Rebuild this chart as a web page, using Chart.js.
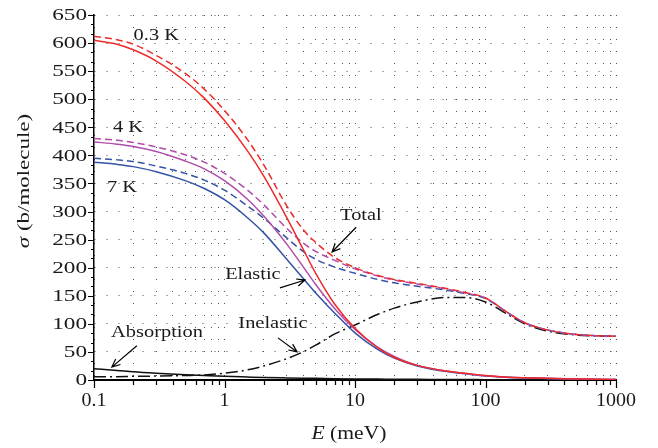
<!DOCTYPE html>
<html>
<head>
<meta charset="utf-8">
<script src="https://cdn.jsdelivr.net/npm/chart.js@4.4.0/dist/chart.umd.min.js"></script>
<style>
  html, body { margin: 0; padding: 0; background: #fff; }
  canvas { display: block; }
</style>
</head>
<body>
<canvas id="sigmaChart" width="658" height="448"></canvas>
<script>
// energies in meV, cross sections in b/molecule
const energies = [0.1, 0.15, 0.2, 0.3, 0.5, 0.7, 1, 1.5, 2, 3, 4, 5, 7, 10, 15, 20, 30, 50, 70, 100, 150, 200, 300, 500, 700, 1000];
const elastic03K = [605, 598, 588, 568, 532, 502, 462, 408, 363, 289, 233, 190, 135, 92, 57, 40, 26, 16, 12, 8, 5, 4, 3, 2, 1.5, 1];
const total03K   = [612, 606, 598, 578, 546, 518, 480, 428, 383, 310, 268, 245, 218, 200, 186, 179, 172, 163, 156, 146, 119, 102, 89, 81, 79, 78];
const elastic4K  = [424, 420, 416, 407, 390, 376, 355, 322, 292, 242, 202, 170, 127, 90, 58, 42, 26, 16, 11.5, 7.5, 5, 3.8, 2.8, 1.8, 1.4, 1];
const total4K    = [430, 427, 423, 415, 401, 388, 368, 338, 312, 270, 244, 229, 213, 198, 185, 178, 171, 162, 155, 146, 119, 102, 89, 81, 79, 78];
const elastic7K  = [388, 384, 380, 371, 355, 341, 321, 289, 262, 215, 181, 155, 119, 84, 54, 39, 25, 15, 11, 7, 4.6, 3.5, 2.5, 1.6, 1.2, 0.9];
const total7K    = [395, 392, 389, 381, 368, 356, 338, 310, 288, 253, 229, 215, 201, 190, 179, 173, 167, 160, 154, 145, 119, 102, 89, 81, 79, 78];
const inelastic  = [6, 6, 6.5, 7, 8, 9, 12, 18, 25, 38, 50, 62, 82, 98, 117, 128, 139, 147, 147, 139, 116, 100, 87, 80, 78.5, 78];
const absorption = [20, 17, 14.5, 12, 9.5, 8, 6.5, 5.3, 4.5, 3.7, 3.2, 2.9, 2.4, 2, 1.7, 1.4, 1.2, 0.9, 0.8, 0.65, 0.5, 0.45, 0.37, 0.3, 0.25, 0.2];

const xTickValues = [0.1, 1, 10, 100, 1000];
const xTickLabels = ['0.1', '1', '10', '100', '1000'];
const yTickValues = [0, 50, 100, 150, 200, 250, 300, 350, 400, 450, 500, 550, 600, 650];

// annotations, placed in data coordinates (E, sigma)
const noteText  = ['0.3 K', '4 K', '7 K', 'Total', 'Elastic', 'Inelastic', 'Absorption'];
const noteE     = [0.3, 0.182, 0.164, 11.1, 1.65, 2.35, 0.304];
const noteSigma = [614, 449, 342, 292, 187, 100, 84];
const arrowFrom = [[10.2, 272], [2.66, 164], [2.57, 75], [0.213, 61]];
const arrowTo   = [[6.67, 228], [4.14, 178], [3.6, 50], [0.137, 23]];

const RED = '#ee2a2a';
const MAGENTA = '#b04ca8';
const BLUE = '#3553a5';
const FONT = '"Liberation Serif", "Times New Roman", serif';

function pts(values) {
    return energies.map((e, i) => ({ x: e, y: values[i] }));
}

function curve(values, color, dash) {
    return {
        data: pts(values),
        borderColor: color,
        borderWidth: 1.5,
        borderDash: dash || [],
        pointRadius: 0,
        fill: false,
        cubicInterpolationMode: 'monotone'
    };
}

// all 1..9 multiples of each decade, for grid and ticks
let xGrid = [];
for (let d = -1; d < 3; d++) {
    for (let m = 1; m < 10; m++) xGrid.push(m * Math.pow(10, d));
}
xGrid.push(1000);

function stretchText(ctx, parts, x, y, align, size, sx) {
    ctx.save();
    ctx.translate(x, y);
    ctx.scale(sx, 1);
    ctx.textBaseline = 'middle';
    ctx.textAlign = 'left';
    ctx.fillStyle = '#1a1a1a';
    let total = 0;
    parts.forEach(p => {
        ctx.font = (p.italic ? 'italic ' : '') + size + 'px ' + FONT;
        p.w = ctx.measureText(p.text).width;
        total += p.w;
    });
    let cx = align === 'center' ? -total / 2 : (align === 'right' ? -total : 0);
    parts.forEach(p => {
        ctx.font = (p.italic ? 'italic ' : '') + size + 'px ' + FONT;
        ctx.fillText(p.text, cx, 0);
        cx += p.w;
    });
    ctx.restore();
}

function arrow(ctx, x1, y1, x2, y2) {
    const a = Math.atan2(y2 - y1, x2 - x1);
    const len = 9, spread = 0.42;
    ctx.beginPath();
    ctx.moveTo(x1, y1);
    ctx.lineTo(x2, y2);
    ctx.moveTo(x2 - len * Math.cos(a - spread), y2 - len * Math.sin(a - spread));
    ctx.lineTo(x2, y2);
    ctx.lineTo(x2 - len * Math.cos(a + spread), y2 - len * Math.sin(a + spread));
    ctx.stroke();
}

const decorations = {
    id: 'decorations',
    afterDraw(chart) {
        const ctx = chart.ctx;
        const xs = chart.scales.x, ys = chart.scales.y;
        const area = chart.chartArea;

        // tick marks
        ctx.save();
        ctx.strokeStyle = '#000';
        ctx.lineWidth = 1.2;
        ctx.beginPath();
        xGrid.forEach(v => {
            const px = Math.round(xs.getPixelForValue(v)) + 0.5;
            const major = Math.abs(Math.log10(v) - Math.round(Math.log10(v))) < 1e-9;
            ctx.moveTo(px, area.bottom);
            ctx.lineTo(px, area.bottom + (major ? 8 : 5));
        });
        for (let i = 0; i <= 39; i++) {
            const py = Math.round(ys.getPixelForValue(i * 50 / 3)) + 0.5;
            const major = i % 3 === 0;
            ctx.moveTo(area.left, py);
            ctx.lineTo(area.left - (major ? 6 : 3), py);
        }
        ctx.stroke();
        ctx.restore();

        // tick labels
        yTickValues.forEach(v => {
            stretchText(ctx, [{ text: String(v) }], area.left - 7, ys.getPixelForValue(v) + 1, 'right', 16, 1.45);
        });
        xTickValues.forEach((v, i) => {
            stretchText(ctx, [{ text: xTickLabels[i] }], xs.getPixelForValue(v), area.bottom + 21, 'center', 19, 1.05);
        });

        // axis titles
        stretchText(ctx, [{ text: 'E', italic: true }, { text: ' (meV)' }], (area.left + area.right) / 2 - 6, 434, 'center', 18, 1.2);
        ctx.save();
        ctx.translate(25, 181);
        ctx.rotate(-Math.PI / 2);
        stretchText(ctx, [{ text: 'σ', italic: true }, { text: ' (b/molecule)' }], 0, 0, 'center', 17, 1.35);
        ctx.restore();

        // curve labels and arrows
        noteText.forEach((t, i) => {
            stretchText(ctx, [{ text: t }], xs.getPixelForValue(noteE[i]), ys.getPixelForValue(noteSigma[i]), 'center', 17, 1.2);
        });
        ctx.save();
        ctx.strokeStyle = '#000';
        ctx.lineWidth = 1.2;
        arrowFrom.forEach((f, i) => {
            const t = arrowTo[i];
            arrow(ctx, xs.getPixelForValue(f[0]), ys.getPixelForValue(f[1]),
                xs.getPixelForValue(t[0]), ys.getPixelForValue(t[1]));
        });
        ctx.restore();
    }
};

new Chart(document.getElementById('sigmaChart').getContext('2d'), {
    type: 'line',
    data: {
        datasets: [
            curve(elastic03K, RED),
            curve(total03K, RED, [7, 4]),
            curve(elastic4K, MAGENTA),
            curve(total4K, MAGENTA, [7, 4]),
            curve(elastic7K, BLUE),
            curve(total7K, BLUE, [7, 4]),
            curve(inelastic, '#111', [12, 4, 2, 4]),
            curve(absorption, '#111')
        ]
    },
    options: {
        responsive: false,
        animation: false,
        devicePixelRatio: 1,
        layout: { padding: { top: 15, right: 42, left: 0, bottom: 0 } },
        plugins: { legend: { display: false }, tooltip: { enabled: false } },
        scales: {
            x: {
                type: 'logarithmic',
                min: 0.1,
                max: 1000,
                afterBuildTicks: s => { s.ticks = xGrid.map(v => ({ value: v })); },
                afterFit: s => { s.height = 68; },
                ticks: { display: false },
                grid: { color: '#555', lineWidth: 1, drawTicks: false },
                border: { display: true, color: '#000', width: 2, dash: [1, 11] }
            },
            y: {
                min: 0,
                max: 650,
                afterFit: s => { s.width = 94; },
                ticks: { display: false, stepSize: 50 },
                grid: { color: '#555', lineWidth: 1, drawTicks: false },
                border: { display: true, color: '#000', width: 1.5, dash: [1, 11] }
            }
        }
    },
    plugins: [decorations]
});
</script>
</body>
</html>
